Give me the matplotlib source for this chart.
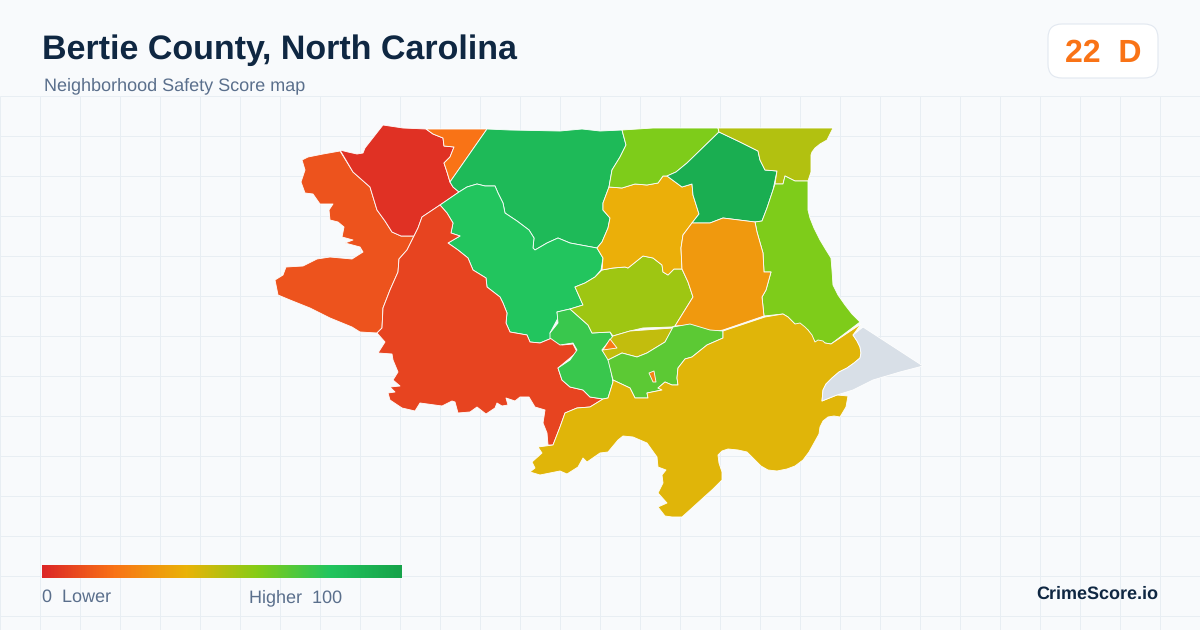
import numpy as np
import matplotlib
matplotlib.use("Agg")
import matplotlib.pyplot as plt
from matplotlib.collections import PolyCollection
from matplotlib.colors import LinearSegmentedColormap, Normalize
from matplotlib.patches import FancyBboxPatch

plt.rcParams['font.family'] = ['Liberation Sans', 'DejaVu Sans']
plt.rcParams['text.hinting'] = 'no_hinting'
plt.rcParams['text.hinting_factor'] = 1

title = "Bertie County, North Carolina"
subtitle = "Neighborhood Safety Score map"
county_score = 22
county_grade = "D"
brand = "CrimeScore.io"

# score scale
scale_colors = ["#dc2626", "#f97316", "#eab308", "#84cc16", "#22c55e", "#16a34a"]

# outlines of the areas, in picture pixels, and the score of each one
west = [(340,151),(353,172),(370,187),(377,210),(385,221),(392,232),(401,236),(414,236),(407,250),(399,259),(398,272),(390,290),(383,308),(382,328),(377,333),(360,332),(352,327),(330,318),(310,308),(290,300),(278,295),(275,280),(283,275),(286,267),(303,266),(317,259),(330,257),(352,259),(363,252),(360,247),(345,243),(353,240),(342,237),(344,227),(338,222),(330,220),(329,210),(333,204),(320,204),(313,194),(305,193),(301,182),(305,170),(302,160),(308,157),(323,154)]
northwest = [(340,150),(348,152),(357,154),(363,153),(365,148),(383,125),(403,128),(426,129),(433,134),(443,138),(444,146),(454,147),(450,157),(444,163),(447,172),(450,182),(453,187),(459,192),(440,205),(422,217),(418,228),(414,236),(401,236),(392,232),(385,221),(377,210),(370,187),(353,172)]
wedge = [(426,129),(487,129),(450,182),(447,172),(444,163),(450,157),(454,147),(444,146),(443,138),(433,134)]
north = [(487,129),(510,130),(560,131),(582,129),(600,131),(622,130),(626,145),(620,157),(612,170),(609,187),(603,203),(603,210),(610,218),(608,228),(602,242),(597,248),(570,243),(558,238),(547,243),(535,250),(533,248),(534,238),(529,230),(517,221),(505,213),(503,203),(498,193),(495,186),(485,186),(477,184),(467,187),(459,192),(453,187),(450,182)]
central = [(440,205),(459,192),(467,187),(477,184),(485,186),(495,186),(498,193),(503,203),(505,213),(517,221),(529,230),(534,238),(533,248),(535,250),(547,243),(558,238),(570,243),(597,248),(603,258),(601,270),(595,277),(585,283),(575,287),(583,305),(570,309),(557,312),(558,318),(550,333),(552,338),(540,343),(530,342),(527,335),(510,332),(506,323),(507,313),(503,303),(500,297),(487,287),(486,278),(473,270),(468,258),(458,250),(448,243),(460,236),(451,233),(453,223),(447,213)]
southwest = [(440,205),(447,213),(453,223),(451,233),(460,236),(448,243),(458,250),(468,258),(473,270),(486,278),(487,287),(500,297),(503,303),(507,313),(506,323),(510,332),(527,335),(530,342),(540,343),(552,338),(562,345),(573,344),(577,352),(570,358),(558,368),(562,380),(570,387),(583,390),(590,397),(603,399),(590,407),(577,408),(565,413),(560,427),(553,445),(548,445),(547,433),(543,423),(545,410),(535,407),(529,397),(520,397),(515,401),(506,398),(508,405),(502,406),(497,403),(495,408),(486,414),(477,407),(470,412),(458,413),(455,402),(452,401),(442,406),(420,403),(415,411),(402,408),(390,400),(388,393),(395,392),(390,387),(400,386),(393,380),(398,372),(393,360),(392,354),(378,353),(385,342),(377,333),(382,328),(383,308),(390,290),(398,272),(399,259),(407,250),(414,236),(418,228),(422,217)]
river = [(550,333),(558,323),(557,312),(570,309),(588,325),(592,333),(610,332),(613,338),(602,350),(609,360),(613,382),(608,398),(603,399),(590,397),(583,390),(570,387),(562,380),(558,368),(570,360),(577,350),(573,343),(560,345),(550,338)]
middle = [(602,270),(613,268),(625,267),(628,268),(643,256),(653,258),(662,265),(663,272),(668,275),(674,269),(682,269),(688,282),(693,297),(675,326),(672,327),(643,328),(630,331),(613,336),(610,332),(592,333),(588,325),(570,309),(583,305),(575,287),(585,283),(595,277)]
upper_amber = [(609,187),(622,188),(635,184),(647,185),(658,183),(663,176),(667,176),(682,187),(692,184),(693,195),(699,214),(692,223),(683,235),(681,248),(682,269),(674,269),(668,275),(663,272),(662,265),(653,258),(643,256),(628,268),(625,267),(613,268),(602,270),(603,258),(597,248),(602,242),(608,228),(610,218),(603,210),(603,203)]
upper_lime = [(622,130),(653,128),(718,128),(719,132),(687,163),(676,172),(667,176),(663,176),(658,183),(647,185),(635,184),(622,188),(609,187),(612,170),(620,157),(626,145)]
upper_green = [(719,132),(740,142),(758,151),(760,160),(765,170),(777,171),(773,190),(767,208),(762,221),(755,222),(723,218),(710,223),(692,223),(699,214),(693,195),(692,184),(682,187),(667,176),(676,172),(687,163)]
northeast = [(718,128),(833,128),(827,140),(820,144),(815,148),(812,152),(811,155),(811,172),(808,181),(795,181),(785,176),(783,184),(775,184),(777,171),(765,170),(760,160),(758,151),(740,142),(719,132)]
east = [(795,181),(808,181),(808,203),(808,210),(810,218),(814,228),(820,240),(826,250),(831,258),(832,270),(833,285),(838,295),(845,305),(852,314),(860,322),(831,344),(825,343),(815,342),(808,330),(795,324),(788,317),(783,314),(764,316),(762,297),(766,290),(771,272),(764,272),(763,253),(757,232),(755,222),(762,221),(767,208),(773,190),(775,184),(783,184),(785,176)]
lower_amber = [(692,223),(710,223),(723,218),(755,222),(757,232),(763,253),(764,272),(771,272),(766,290),(762,297),(764,316),(723,330),(713,332),(690,325),(675,326),(693,297),(688,282),(682,269),(681,248),(683,235)]
olive_strip = [(613,336),(630,331),(673,328),(665,342),(647,353),(637,357),(622,353),(608,360),(602,350)]
small_triangle = [(610,339),(617,348),(603,350)]
lime_south = [(673,327),(690,324),(710,330),(723,331),(723,338),(707,345),(692,357),(685,359),(678,368),(677,378),(678,385),(672,385),(665,382),(658,388),(662,390),(647,393),(648,398),(635,398),(630,388),(613,380),(608,360),(622,353),(637,357),(647,353),(665,342)]
sliver = [(649,373),(654,371),(656,382),(653,382)]
south = [(723,331),(765,317),(783,314),(788,317),(795,324),(800,323),(805,327),(808,330),(812,335),(815,342),(818,340),(823,341),(825,343),(831,344),(861,324),(853,335),(857,341),(860,347),(861,353),(860,358),(854,363),(847,368),(839,372),(832,378),(826,384),(823,390),(822,401),(837,395),(848,396),(846,407),(840,417),(834,416),(828,417),(823,421),(820,427),(819,434),(814,443),(809,452),(803,460),(795,466),(787,469),(777,471),(768,470),(761,466),(755,460),(750,455),(747,452),(738,450),(728,449),(722,451),(718,455),(719,463),(722,472),(722,480),(713,489),(703,498),(692,508),(682,517),(672,517),(665,516),(658,507),(667,503),(658,493),(663,483),(662,475),(666,470),(658,467),(657,457),(647,443),(633,437),(623,436),(618,440),(608,452),(600,453),(587,462),(583,458),(578,467),(567,474),(560,471),(540,475),(530,472),(535,468),(532,462),(542,453),(538,447),(553,445),(560,427),(565,413),(577,408),(590,407),(603,399),(608,398),(613,382),(613,380),(630,388),(635,398),(648,398),(647,393),(662,390),(658,388),(665,382),(672,385),(678,385),(677,378),(678,368),(685,359),(692,357),(707,345),(723,338)]
water = [(863,327),(923,366),(900,372),(873,380),(853,390),(837,395),(822,401),(823,390),(826,384),(832,378),(839,372),(847,368),(854,363),(860,358),(861,353),(860,347),(857,341),(853,335)]

areas = [west, northwest, wedge, north, central, southwest, river, middle, upper_amber, upper_lime, upper_green, northeast, east, lower_amber, olive_strip, small_triangle, lime_south, sliver, south, water]
scores = [12, 3, 20, 86, 80, 8, 75, 55, 39, 61, 93, 51, 61, 32, 48, 22, 68, 25, 42, np.nan]

fig = plt.figure(figsize=(12, 6.3), dpi=100, facecolor="#f8fafc")
ax = fig.add_axes([0, 0, 1, 1])
ax.set_facecolor("#f8fafc")

# background grid, below the header only
ax.vlines(np.arange(0.2, 1200, 40), 96, 630, color="#e8eef3", lw=0.72, zorder=1)
ax.hlines(np.arange(96.2, 630, 40), 0, 1200, color="#e8eef3", lw=0.72, zorder=1)

cmap = LinearSegmentedColormap.from_list("score", scale_colors)
cmap.set_bad("#d8dfe7")
norm = Normalize(0, 100)
polys = PolyCollection(areas, array=np.ma.masked_invalid(scores), cmap=cmap, norm=norm,
                       edgecolors="#ffffff", linewidths=0.6, zorder=2)
ax.add_collection(polys)

ax.imshow(np.linspace(0, 100, 360).reshape(1, -1), cmap=cmap, norm=norm, aspect="auto",
          extent=(42, 402, 578, 565), zorder=3)

ax.set_xlim(0, 1200)
ax.set_ylim(630, 0)
ax.axis("off")

ax.text(42, 59, title, fontsize=24.6, fontweight="bold", color="#0f2742", va="baseline")
ax.text(44, 90, subtitle, fontsize=12.9, color="#5a6f8c", va="baseline")

ax.add_patch(FancyBboxPatch((1062, 38), 82, 26, boxstyle="round,pad=14,rounding_size=14",
                            fc="#ffffff", ec="#e2e8f0", lw=0.8, zorder=3))
ax.text(1103, 62, f"{county_score}  {county_grade}", fontsize=23, fontweight="bold", color="#f97316",
        ha="center", va="baseline", zorder=4)

ax.text(42, 602, "0  Lower", fontsize=12.9, color="#5a6f8c", va="baseline")
ax.text(342, 602, "Higher  100", fontsize=12.9, color="#5a6f8c", ha="right", va="baseline")
ax.text(1158, 599, brand, fontsize=13.0, fontweight="bold", color="#0f2742", ha="right", va="baseline")

fig.savefig("out.png", dpi=100, facecolor=fig.get_facecolor())
